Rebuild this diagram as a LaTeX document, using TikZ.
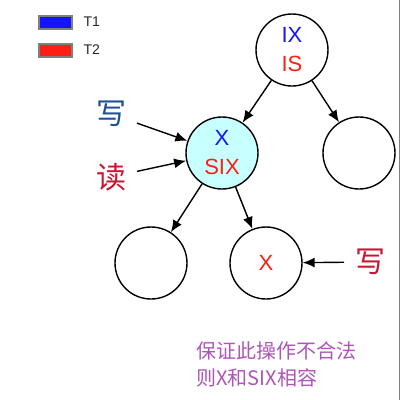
\documentclass[tikz,border=0pt]{standalone}
\usepackage{fontspec}
\setmainfont{Liberation Sans}
\newfontfamily\cjk{Noto Sans CJK SC}
\usetikzlibrary{arrows.meta}
\definecolor{azulT}{RGB}{20,20,255}
\definecolor{rojoT}{RGB}{255,30,20}
\definecolor{azulW}{RGB}{30,80,150}
\definecolor{rojoR}{RGB}{200,25,50}
\definecolor{morado}{RGB}{175,85,185}
\definecolor{cian}{RGB}{200,255,255}
\tikzset{
  nodo/.style={circle, draw=black, line width=1.4pt, minimum size=72pt, inner sep=0pt, align=center, font=\fontsize{22}{29}\selectfont},
  accion/.style={font=\cjk\fontsize{30}{30}\selectfont, inner sep=0pt, outer sep=11pt},
  flecha/.style={-{Latex[length=12pt,width=10pt]}, line width=1.4pt},
  leyenda/.style={draw=gray, line width=2pt, minimum width=33pt, minimum height=13pt, inner sep=0pt},
  etiqueta/.style={anchor=west, font=\fontsize{14}{14}\selectfont, text=black!85}
}
\begin{document}
\begin{tikzpicture}[x=1pt,y=-1pt]
        \useasboundingbox (0,0) rectangle (400,400);
        \fill[white] (0,0) rectangle (400,400);
        \draw[gray, line width=1pt] (399.5,0) -- (399.5,400);
        % Leyenda
        \node[leyenda, fill=azulT] (l1) at (55,22) {};
        \node[etiqueta] (t1) at (80,22) {T1};
        \node[leyenda, fill=rojoT] (l2) at (55,50) {};
        \node[etiqueta] (t2) at (80,50) {T2};
        % Nodos
        \node[nodo] (raiz) at (292,50) {\textcolor{azulT}{IX}\\\textcolor{rojoT}{IS}};
        \node[nodo, fill=cian] (medio) at (222,153) {\textcolor{azulT}{X}\\\textcolor{rojoT}{SIX}};
        \node[nodo] (der) at (359,153) {};
        \node[nodo] (hizq) at (151,263) {};
        \node[nodo] (hder) at (266,263) {\textcolor{rojoT}{X}};
        % Acciones
        \node[accion, text=azulW] (esc1) at (111,114) {写};
        \node[accion, text=rojoR] (lee) at (111,177) {读};
        \node[accion, text=rojoR] (esc2) at (370,262) {写};
        % Flechas
        \draw[flecha] (raiz) -- (medio);
        \draw[flecha] (raiz) -- (der);
        \draw[flecha] (medio) -- (hizq);
        \draw[flecha] (medio) -- (hder);
        \draw[flecha] (esc1) -- (medio);
        \draw[flecha] (lee) -- (medio);
        \draw[flecha] (esc2) -- (hder);
        % Nota
        \node[anchor=west, align=left, text=morado, font=\cjk\fontsize{20}{27}\selectfont] (nota) at (193,364) {保证此操作不合法\\则X和SIX相容};
    \end{tikzpicture}
\end{document}
